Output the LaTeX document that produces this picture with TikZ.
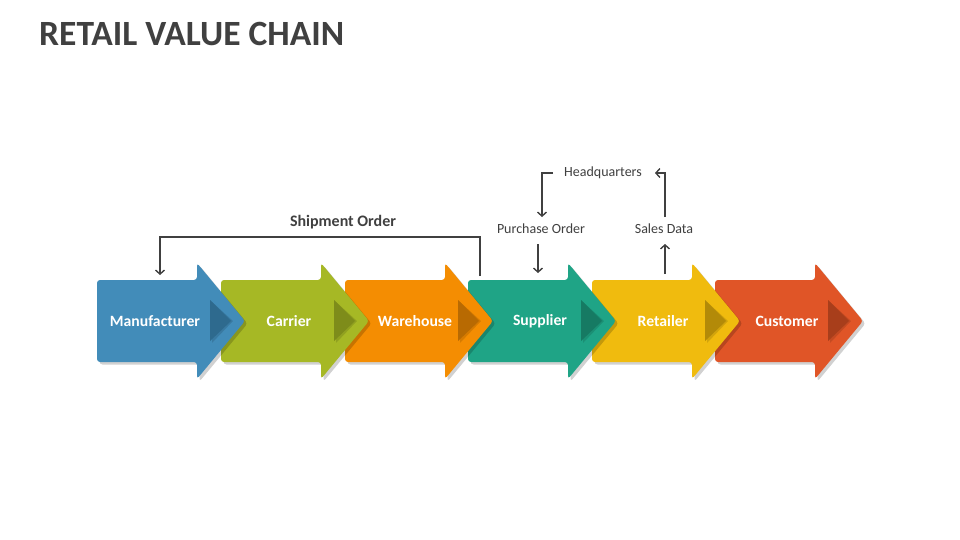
\documentclass[tikz,border=0pt]{standalone}
\usepackage{fontspec}
\setmainfont{Carlito}
\usetikzlibrary{arrows.meta,calc}
\definecolor{txtdark}{HTML}{404040}
\definecolor{cman}{HTML}{428CB9}
\definecolor{cmanD}{HTML}{2E6A8E}
\definecolor{ccar}{HTML}{A6B825}
\definecolor{ccarD}{HTML}{7E8C1A}
\definecolor{cwar}{HTML}{F48D02}
\definecolor{cwarD}{HTML}{B86A02}
\definecolor{csup}{HTML}{1FA486}
\definecolor{csupD}{HTML}{167A63}
\definecolor{cret}{HTML}{F0BB0E}
\definecolor{cretD}{HTML}{B38A08}
\definecolor{ccus}{HTML}{E05527}
\definecolor{ccusD}{HTML}{A83E1B}
\tikzset{
  lbl/.style={text=white,font=\bfseries\fontsize{15.7}{18}\selectfont,inner sep=0pt},
  note/.style={text=txtdark,font=\fontsize{14}{16}\selectfont,inner sep=1pt},
  conn/.style={draw=txtdark,line width=1.6pt,-{Straight Barb[length=4pt,width=9pt,line width=1.4pt]}},
}
\newcommand{\chainarrow}[3]{%
  \fill[black,opacity=0.18,rounded corners=3pt,shift={(2.5,2.5)}]
    (#1,280) -- (#1+100,280) -- (#1+100,263) -- (#1+148,321) -- (#1+100,379) -- (#1+100,362) -- (#1,362) -- cycle;
  \fill[#2,rounded corners=3pt]
    (#1,280) -- (#1+100,280) -- (#1+100,263) -- (#1+148,321) -- (#1+100,379) -- (#1+100,362) -- (#1,362) -- cycle;
  \fill[black,opacity=0.12] (#1+115,302) -- (#1+136,321) -- (#1+115,343) -- cycle;
  \fill[#3] (#1+113,300) -- (#1+134,321) -- (#1+113,341) -- cycle;
}
\begin{document}
\begin{tikzpicture}[x=1pt,y=-1pt]
\useasboundingbox (0,0) rectangle (960,540);
\fill[white] (0,0) rectangle (960,540);
\node[anchor=west,text=txtdark,font=\bfseries\fontsize{35.5}{40}\selectfont,inner sep=0pt] (title) at (39,34) {RETAIL VALUE CHAIN};
% arrows, right to left so each overlaps the next
\chainarrow{715}{ccus}{ccusD}
\chainarrow{592}{cret}{cretD}
\chainarrow{468}{csup}{csupD}
\chainarrow{345}{cwar}{cwarD}
\chainarrow{221}{ccar}{ccarD}
\chainarrow{97}{cman}{cmanD}
\node[lbl] (man) at (155,321) {Manufacturer};
\node[lbl] (car) at (289,321) {Carrier};
\node[lbl] (war) at (415,321) {Warehouse};
\node[lbl] (sup) at (540,321) {Supplier};
\node[lbl] (ret) at (663,321) {Retailer};
\node[lbl] (cus) at (787,321) {Customer};
% labels
\node[text=txtdark,font=\bfseries\fontsize{16}{19}\selectfont,inner sep=0pt] (ship) at (343,222) {Shipment Order};
\node[note] (hq) at (603,173) {Headquarters};
\node[note] (po) at (541,229) {Purchase Order};
\node[note] (sd) at (664,229) {Sales Data};
% connector points
\coordinate (supTop) at (480,276);
\coordinate (manTop) at (160,275);
\coordinate (hqL) at (553,173);
\coordinate (hqR) at (655,173);
\coordinate (poTop) at (542,217);
\coordinate (poBot) at (538,244);
\coordinate (supIn) at (538,273);
\coordinate (retOut) at (665,274);
\coordinate (sdBot) at (665,244);
\coordinate (sdTop) at (665,217);
% connectors
\draw[conn] (supTop) -- ++(0,-39) -| (manTop);
\draw[conn] (hqL) -| (poTop);
\draw[conn] (poBot) -- (supIn);
\draw[conn] (retOut) -- (sdBot);
\draw[conn] (sdTop) |- (hqR);
\end{tikzpicture}
\end{document}
